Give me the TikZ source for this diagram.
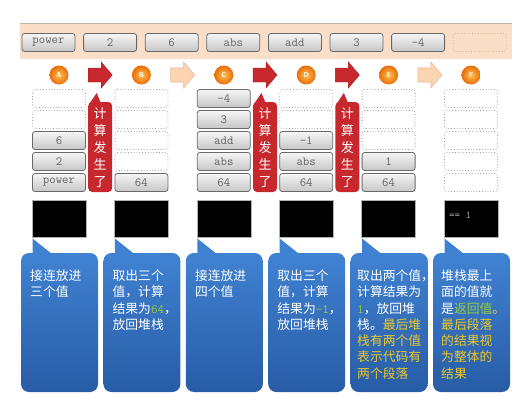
\documentclass[tikz,border=0pt]{standalone}
\usepackage{fontspec}
\newfontfamily\cjk{Noto Sans CJK SC}
\definecolor{bandpeach}{RGB}{251,222,200}
\definecolor{bandline}{RGB}{190,180,170}
\definecolor{boxborder}{RGB}{105,105,105}
\definecolor{boxtop}{RGB}{246,246,246}
\definecolor{boxbot}{RGB}{198,198,198}
\definecolor{monotext}{RGB}{100,100,100}
\definecolor{redA}{RGB}{198,40,46}
\definecolor{redB}{RGB}{170,28,34}
\definecolor{peachfill}{RGB}{251,212,180}
\definecolor{peachline}{RGB}{238,182,140}
\definecolor{bluetop}{RGB}{64,130,210}
\definecolor{bluebot}{RGB}{40,92,166}
\definecolor{codegreen}{RGB}{150,205,60}
\definecolor{codeyellow}{RGB}{236,200,40}
\definecolor{ballin}{RGB}{255,190,80}
\definecolor{ballout}{RGB}{232,110,10}
\newcommand\gcode[1]{{\color{codegreen}\ttfamily #1}}
\newcommand\ylw[1]{{\color{codeyellow}#1}}
\tikzset{
  fullbox/.style={rounded corners=2.5pt, draw=boxborder, line width=0.8pt, top color=boxtop, bottom color=boxbot, minimum width=53pt, minimum height=18pt, inner sep=0pt, font=\ttfamily\fontsize{12.5}{13}\selectfont, text=monotext},
  emptybox/.style={rounded corners=2.5pt, draw=gray!75, dotted, line width=0.8pt, fill=white, minimum width=53pt, minimum height=18pt, inner sep=0pt},
  slotbox/.style={rounded corners=2.5pt, draw=brown!60, dotted, line width=0.8pt, fill=bandpeach, minimum width=53pt, minimum height=18pt, inner sep=0pt},
  ballnode/.style={circle, minimum size=19pt, inner sep=0pt, inner color=ballin, outer color=ballout, text=white, font=\sffamily\bfseries\fontsize{7}{8}\selectfont},
  screen/.style={fill=black, draw=gray!60, line width=0.4pt, minimum width=54pt, minimum height=37pt, inner sep=0pt},
  bubble/.style={rounded corners=8pt, top color=bluetop, bottom color=bluebot, minimum width=77pt, minimum height=139pt, inner sep=0pt},
  bubtext/.style={anchor=north west, inner sep=0pt, align=left, text=white, font=\cjk\fontsize{12.8}{16.3}\selectfont},
  calcbox/.style={rounded corners=4pt, fill=redA, minimum width=24pt, minimum height=90pt, inner sep=0pt},
  calctext/.style={align=center, inner sep=0pt, text=white, font=\cjk\fontsize{13}{17}\selectfont},
  redarrow/.style={fill=redA, draw=redB, line width=0.4pt},
  peacharrow/.style={fill=peachfill, draw=peachline, line width=0.6pt}
}
\begin{document}
\begin{tikzpicture}[x=1pt,y=-1pt]
\useasboundingbox (0,0) rectangle (521,402);
% top band
\fill[bandpeach] (20,23) rectangle (512,59);
\draw[bandline, line width=0.6pt] (20,23) -- (512,23);
\foreach \t [count=\i from 0] in {power,2,6,abs,add,3,-4} {
  \node[fullbox] (tok\i) at ({48.5+61.6*\i},42.5) {\t};
}
\node[slotbox] (tok7) at ({48.5+61.6*7},42.5) {};
% balls, screens, bubbles
\foreach \c/\x in {A/59,B/141.4,C/223.8,D/306.2,E/388.6,F/471} {
  \node[ballnode] (ball\c) at (\x,75) {\c};
  \node[screen] (scr\c) at (\x,218.5) {};
  \fill[bluetop] (\x-26.5,238.5) -- (\x-7,254) -- (\x-26.5,254) -- cycle;
  \node[bubble] (bub\c) at (\x+0.5,322.5) {};
}
% arrows between columns
\foreach \m/\s in {100.2/redarrow,182.6/peacharrow,265/redarrow,347.4/redarrow,429.8/peacharrow} {
  \path[\s] (\m-12,68) -- (\m+1,68) -- (\m+1,62) -- (\m+12,75) -- (\m+1,88) -- (\m+1,82) -- (\m-12,82) -- cycle;
}
% "calculation happened" callouts
\foreach \m [count=\i] in {100.2,265,347.4} {
  \fill[redA] (\m-11,104) -- (\m-3.5,93) -- (\m+1,104) -- cycle;
  \node[calcbox] (calc\i) at (\m,147) {};
  \node[calctext] (calct\i) at (\m,147.5) {计\\算\\发\\生\\了};
}
% stacks: rows y = 98.5 119.5 140.5 161.5 182.5
% A
\node[emptybox] (A1) at (59,98.5) {};
\node[emptybox] (A2) at (59,119.5) {};
\node[fullbox] (A3) at (59,140.5) {6};
\node[fullbox] (A4) at (59,161.5) {2};
\node[fullbox] (A5) at (59,182.5) {power};
% B
\node[emptybox] (B1) at (141.4,98.5) {};
\node[emptybox] (B2) at (141.4,119.5) {};
\node[emptybox] (B3) at (141.4,140.5) {};
\node[emptybox] (B4) at (141.4,161.5) {};
\node[fullbox] (B5) at (141.4,182.5) {64};
% C
\node[fullbox] (C1) at (223.8,98.5) {-4};
\node[fullbox] (C2) at (223.8,119.5) {3};
\node[fullbox] (C3) at (223.8,140.5) {add};
\node[fullbox] (C4) at (223.8,161.5) {abs};
\node[fullbox] (C5) at (223.8,182.5) {64};
% D
\node[emptybox] (D1) at (306.2,98.5) {};
\node[emptybox] (D2) at (306.2,119.5) {};
\node[fullbox] (D3) at (306.2,140.5) {-1};
\node[fullbox] (D4) at (306.2,161.5) {abs};
\node[fullbox] (D5) at (306.2,182.5) {64};
% E
\node[emptybox] (E1) at (388.6,98.5) {};
\node[emptybox] (E2) at (388.6,119.5) {};
\node[emptybox] (E3) at (388.6,140.5) {};
\node[fullbox] (E4) at (388.6,161.5) {1};
\node[fullbox] (E5) at (388.6,182.5) {64};
% F
\node[emptybox] (F1) at (471,98.5) {};
\node[emptybox] (F2) at (471,119.5) {};
\node[emptybox] (F3) at (471,140.5) {};
\node[emptybox] (F4) at (471,161.5) {};
\node[emptybox] (F5) at (471,182.5) {};
% screen output
\node[anchor=west, inner sep=0pt, text=gray!70, font=\ttfamily\fontsize{10.5}{11}\selectfont] (outF) at (449,215) {== 1};
% bubble texts
\node[bubtext] (txtA) at (30,269.5) {接连放进\\三个值};
\node[bubtext] (txtB) at (112.4,269.5) {取出三个\\值，计算\\结果为\gcode{64}，\\放回堆栈};
\node[bubtext] (txtC) at (194.8,269.5) {接连放进\\四个值};
\node[bubtext] (txtD) at (277.2,269.5) {取出三个\\值，计算\\结果为\gcode{-1}，\\放回堆栈};
\node[bubtext] (txtE) at (357,269.5) {取出两个值，\\计算结果为\\\gcode{1}，放回堆\\栈。\ylw{最后堆}\\\ylw{栈有两个值}\\\ylw{表示代码有}\\\ylw{两个段落}};
\node[bubtext] (txtF) at (441,269.5) {堆栈最上\\面的值就\\是{\color{codegreen}返回值}\ylw{。}\\\ylw{最后段落}\\\ylw{的结果视}\\\ylw{为整体的}\\\ylw{结果}};
\end{tikzpicture}
\end{document}
